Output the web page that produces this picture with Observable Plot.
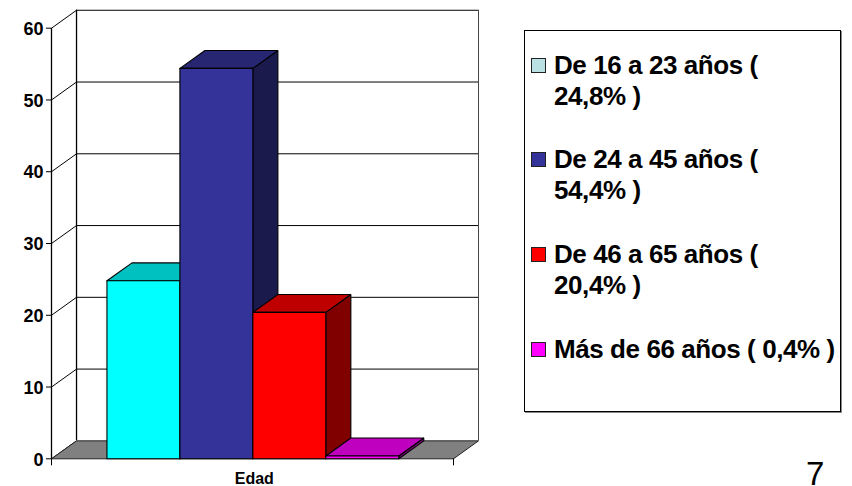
<!DOCTYPE html>
<html>
<head>
<meta charset="utf-8">
<script src="https://cdn.jsdelivr.net/npm/d3@7"></script>
<script src="https://cdn.jsdelivr.net/npm/@observablehq/plot@0.6"></script>
<style>
html,body{margin:0;padding:0;background:#fff;overflow:hidden}
#wrap{position:relative;width:852px;height:486px;overflow:hidden;font-family:"Liberation Sans",Arial,sans-serif}
#chart{position:absolute;left:0;top:0}
#chart svg{overflow:visible;display:block}
#legend{position:absolute;left:524px;top:30px;width:315px;height:380px;border:1px solid #000;box-shadow:1px 1px 0 #888;background:#fff}
.item{position:absolute;left:6px;font-weight:bold;font-size:26px;line-height:30.5px;letter-spacing:-0.42px;color:#000;white-space:pre}
.sw{position:absolute;left:0;top:8px;width:15px;height:15px;border:1px solid #222;box-sizing:border-box}
.tx{position:absolute;left:23px;top:0}
#page{position:absolute;left:806px;top:459px;font-size:33px;color:#000;line-height:30px}
</style>
</head>
<body>
<div id="wrap"><div id="chart"></div><div id="legend"></div><div id="page">7</div></div>
<script>
const categories = ["De 16 a 23 años", "De 24 a 45 años", "De 46 a 65 años", "Más de 66 años"];
const values = [24.8, 54.4, 20.4, 0.4];
const percentLabels = ["24,8%", "54,4%", "20,4%", "0,4%"];
const frontColors = ["#00ffff", "#333399", "#ff0000", "#ff00ff"];
const topColors = ["#00c0c0", "#262673", "#bf0000", "#bf00bf"];
const sideColors = ["#008080", "#1a1a4d", "#800000", "#800080"];
const legendColors = ["#b9e1e3", "#333399", "#ff0000", "#ff00ff"];
const yTicks = [0, 10, 20, 30, 40, 50, 60];
const axisLabel = "Edad";

const xMax = 5.51, barStart = 0.76, depthX = 0.343, depthY = 2.5, yMax = 60;

const faces = [];
function face(id, fill, stroke, pts) {
  [...pts, pts[0]].forEach(([x, y]) => faces.push({id, fill, stroke, x, y}));
}
values.forEach((v, i) => {
  const a = barStart + i, b = a + 1;
  face("s" + i, sideColors[i], "#000", [[b, 0], [b + depthX, depthY], [b + depthX, v + depthY], [b, v]]);
  face("t" + i, topColors[i], "#000", [[a, v], [a + depthX, v + depthY], [b + depthX, v + depthY], [b, v]]);
  face("f" + i, frontColors[i], "#000", [[a, 0], [b, 0], [b, v], [a, v]]);
});
face("floor", "#808080", "#000", [[0, 0], [xMax, 0], [xMax + depthX, depthY], [depthX, depthY]]);
const floorFaces = faces.splice(-5);

const grid = yTicks.filter(t => t > 0);
const plot = Plot.plot({
  width: 852, height: 486,
  marginLeft: 51, marginRight: 399, marginTop: 27.7, marginBottom: 27.7,
  style: {background: "transparent", fontFamily: '"Liberation Sans",Arial,sans-serif', overflow: "visible"},
  x: {domain: [0, xMax], axis: null},
  y: {domain: [0, yMax], axis: null},
  marks: [
    Plot.ruleY(grid, {y: d => d + depthY, x1: depthX, x2: xMax + depthX, stroke: "#000", strokeWidth: 1}),
    Plot.link(yTicks, {x1: 0, y1: d => d, x2: depthX, y2: d => d + depthY, stroke: "#000", strokeWidth: 1}),
    Plot.ruleX([depthX], {y1: depthY, y2: yMax + depthY, stroke: "#000", strokeWidth: 1.3}),
    Plot.ruleX([xMax + depthX], {y1: depthY, y2: yMax + depthY, stroke: "#444", strokeWidth: 1}),
    Plot.ruleX([0], {y1: 0, y2: yMax, stroke: "#000", strokeWidth: 1.3}),
    Plot.line(floorFaces, {x: "x", y: "y", z: "id", fill: "fill", stroke: "#222", strokeWidth: 1}),
    Plot.line(faces, {x: "x", y: "y", z: "id", fill: "fill", stroke: "stroke", strokeWidth: 1.1, strokeLinejoin: "miter"}),
    Plot.axisY({ticks: yTicks, tickSize: 5, tickFormat: () => "", anchor: "left", label: null}),
    Plot.axisY({ticks: yTicks, tickSize: 0, tickPadding: 8, dy: 1, anchor: "left", label: null, fontSize: 18, fontWeight: "bold", letterSpacing: "-0.3px"}),
    Plot.axisX({ticks: [0, xMax], tickSize: 7, tickFormat: () => "", label: null, anchor: "bottom"}),
    Plot.text([axisLabel], {x: xMax * 0.5045, y: 0, dy: 19.6, text: d => d, fontSize: 16, fontWeight: "bold", letterSpacing: "1px"})
  ]
});
document.getElementById("chart").appendChild(plot);

const legendTops = [19, 113, 208, 303];
const legend = document.getElementById("legend");
categories.forEach((c, i) => {
  const item = document.createElement("div");
  item.className = "item";
  item.style.top = legendTops[i] + "px";
  const sw = document.createElement("div");
  sw.className = "sw";
  sw.style.background = legendColors[i];
  const tx = document.createElement("div");
  tx.className = "tx";
  tx.textContent = i < 3 ? `${c} (\n${percentLabels[i]} )` : `${c} ( ${percentLabels[i]} )`;
  item.append(sw, tx);
  legend.appendChild(item);
});
</script>
</body>
</html>
